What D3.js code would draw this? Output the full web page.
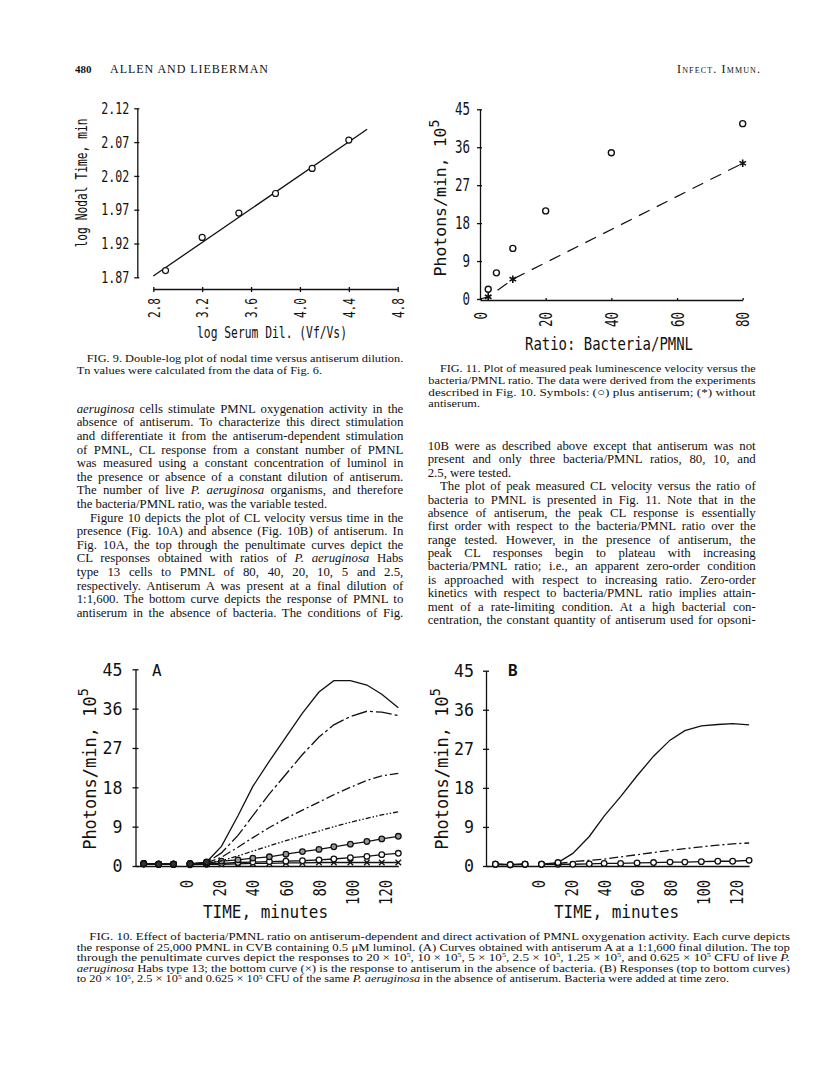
<!DOCTYPE html>
<html>
<head>
<meta charset="utf-8">
<script src="https://cdn.jsdelivr.net/npm/d3@7"></script>
<style>
  body { margin: 0; background: #fff; }
  svg { display: block; }
  .plot text { font-family: "DejaVu Sans Mono", monospace; fill: #111; }
  .serif { font-family: "Liberation Serif", "Times New Roman", serif; fill: #111; }
</style>
</head>
<body>
<script>
// ---- Fig 9: log nodal time vs log serum dilution
var fig9Dilution = [2.9, 3.2, 3.5, 3.8, 4.1, 4.4];
var fig9Nodal = [1.880, 1.929, 1.965, 1.994, 2.031, 2.073];
var fig9FitX = [2.8, 4.55];
var fig9FitY = [1.872, 2.089];
var fig9XTicks = [2.8, 3.2, 3.6, 4.0, 4.4, 4.8];
var fig9YTicks = [1.87, 1.92, 1.97, 2.02, 2.07, 2.12];

// ---- Fig 11: peak velocity vs bacteria/PMNL ratio
var fig11Ratio = [2.5, 5, 10, 20, 40, 80];
var fig11WithSerum = [2.3, 6.2, 12.0, 20.9, 34.7, 41.6];
var fig11RatioNoSerum = [2.5, 10, 80];
var fig11NoSerum = [0.5, 4.7, 32.2];
var fig11XTicks = [0, 20, 40, 60, 80];
var photonTicks = [0, 9, 18, 27, 36, 45];

// ---- Fig 10: CL velocity vs time
var fig10PreTimes = [-26, -17, -8];
var fig10PostTimes = [2, 12, 21, 31, 40, 50, 60, 70, 80, 89, 99, 109, 118, 128];
var fig10TimeTicks = [0, 20, 40, 60, 80, 100, 120];
var fig10APre = [0.5, 0.4, 0.4];
var fig10A80 = [0.5, 0.9, 4.5, 11.5, 18.2, 24.0, 29.5, 35.0, 39.8, 42.4, 42.4, 41.4, 39.3, 36.2];
var fig10A40 = [0.5, 0.8, 3.0, 7.0, 11.5, 16.5, 21.0, 25.5, 29.5, 32.3, 34.2, 35.4, 35.2, 34.4];
var fig10A20 = [0.5, 0.7, 2.0, 4.3, 6.5, 8.8, 10.9, 12.8, 14.6, 16.3, 18.0, 19.6, 20.6, 21.2];
var fig10A10 = [0.5, 0.6, 1.2, 2.3, 3.4, 4.6, 5.8, 6.9, 8.0, 9.0, 10.0, 10.9, 11.7, 12.4];
var fig10A5 = [0.5, 0.6, 1.1, 1.4, 1.8, 2.1, 2.7, 3.3, 3.8, 4.4, 5.0, 5.6, 6.2, 6.8];
var fig10A2_5 = [0.4, 0.5, 0.6, 0.8, 0.9, 1.0, 1.1, 1.2, 1.4, 1.6, 1.9, 2.2, 2.6, 2.9];
var fig10ANone = [0.3, 0.4, 0.4, 0.5, 0.6, 0.6, 0.7, 0.7, 0.8, 0.8, 0.8, 0.8, 0.8, 0.8];
var fig10BPre = [0.4, 0.3, 0.4];
var fig10B80 = [0.4, 0.8, 2.9, 6.8, 11.5, 16.0, 20.8, 25.3, 29.0, 31.2, 32.3, 32.6, 32.8, 32.5];
var fig10B10 = [0.4, 0.6, 1.0, 1.3, 1.6, 2.1, 2.6, 3.1, 3.6, 4.0, 4.4, 4.8, 5.1, 5.3];
var fig10B2_5 = [0.4, 0.4, 0.4, 0.5, 0.6, 0.6, 0.7, 0.8, 0.9, 0.9, 1.0, 1.1, 1.1, 1.3];

// ---- page text
var fig9Caption = [
  "FIG. 9. Double-log plot of nodal time versus antiserum dilution.",
  "Tn values were calculated from the data of Fig. 6."
];
var fig11Caption = [
  "FIG. 11. Plot of measured peak luminescence velocity versus the",
  "bacteria/PMNL ratio. The data were derived from the experiments",
  "described in Fig. 10. Symbols: (\u25CB) plus antiserum; (*) without",
  "antiserum."
];
var leftBody = [
  "_aeruginosa_ cells stimulate PMNL oxygenation activity in the",
  "absence of antiserum. To characterize this direct stimulation",
  "and differentiate it from the antiserum-dependent stimulation",
  "of PMNL, CL response from a constant number of PMNL",
  "was measured using a constant concentration of luminol in",
  "the presence or absence of a constant dilution of antiserum.",
  "The number of live _P. aeruginosa_ organisms, and therefore",
  "the bacteria/PMNL ratio, was the variable tested.",
  "Figure 10 depicts the plot of CL velocity versus time in the",
  "presence (Fig. 10A) and absence (Fig. 10B) of antiserum. In",
  "Fig. 10A, the top through the penultimate curves depict the",
  "CL responses obtained with ratios of _P. aeruginosa_ Habs",
  "type 13 cells to PMNL of 80, 40, 20, 10, 5 and 2.5,",
  "respectively. Antiserum A was present at a final dilution of",
  "1:1,600. The bottom curve depicts the response of PMNL to",
  "antiserum in the absence of bacteria. The conditions of Fig."
];
var rightBody = [
  "10B were as described above except that antiserum was not",
  "present and only three bacteria/PMNL ratios, 80, 10, and",
  "2.5, were tested.",
  "The plot of peak measured CL velocity versus the ratio of",
  "bacteria to PMNL is presented in Fig. 11. Note that in the",
  "absence of antiserum, the peak CL response is essentially",
  "first order with respect to the bacteria/PMNL ratio over the",
  "range tested. However, in the presence of antiserum, the",
  "peak CL responses begin to plateau with increasing",
  "bacteria/PMNL ratio; i.e., an apparent zero-order condition",
  "is approached with respect to increasing ratio. Zero-order",
  "kinetics with respect to bacteria/PMNL ratio implies attain-",
  "ment of a rate-limiting condition. At a high bacterial con-",
  "centration, the constant quantity of antiserum used for opsoni-"
];
var fig10Caption = [
  "FIG. 10. Effect of bacteria/PMNL ratio on antiserum-dependent and direct activation of PMNL oxygenation activity. Each curve depicts",
  "the response of 25,000 PMNL in CVB containing 0.5 \u03BCM luminol. (A) Curves obtained with antiserum A at a 1:1,600 final dilution. The top",
  "through the penultimate curves depict the responses to 20 \u00D7 10^5^, 10 \u00D7 10^5^, 5 \u00D7 10^5^, 2.5 \u00D7 10^5^, 1.25 \u00D7 10^5^, and 0.625 \u00D7 10^5^ CFU of live _P._",
  "_aeruginosa_ Habs type 13; the bottom curve (\u00D7) is the response to antiserum in the absence of bacteria. (B) Responses (top to bottom curves)",
  "to 20 \u00D7 10^5^, 2.5 \u00D7 10^5^ and 0.625 \u00D7 10^5^ CFU of the same _P. aeruginosa_ in the absence of antiserum. Bacteria were added at time zero."
];

var width = 816, height = 1084;
var svg = d3.select("body").append("svg")
  .attr("width", width)
  .attr("height", height);

// one line of page text; _x_ = italic, ^x^ = superscript
// body lines are justified through word spacing, caption lines through glyph stretching
function textLine(x, y, str, size, len, stretch) {
  var t = svg.append("text").attr("class", "serif")
    .attr("x", x).attr("y", y).attr("font-size", size);
  var parts = str.split(/(_[^_]+_|\^[^^]+\^)/).filter(function(s) { return s; });
  var raised = false;
  parts.forEach(function(p) {
    var sp = t.append("tspan");
    if (raised) { sp.attr("dy", size * 0.35); raised = false; }
    if (p[0] === "_") sp.attr("font-style", "italic").text(p.slice(1, -1));
    else if (p[0] === "^") {
      sp.attr("dy", -size * 0.35).attr("font-size", size * 0.62).text(p.slice(1, -1));
      raised = true;
    } else sp.text(p);
  });
  var natural = t.node().getComputedTextLength();
  if (stretch) {
    t.attr("textLength", len || natural * stretch).attr("lengthAdjust", "spacingAndGlyphs");
  } else if (len) {
    var spaces = (t.text().match(/ /g) || []).length;
    if (spaces) t.style("word-spacing", ((len - natural) / spaces) + "px");
  }
  return t;
}

function styleAxis(g, size, charW) {
  g.attr("font-family", null).attr("font-size", null);
  g.select(".domain").attr("stroke", "#111").attr("stroke-width", 1.3);
  g.selectAll(".tick line").attr("stroke", "#111").attr("stroke-width", 1.3);
  g.selectAll(".tick text").attr("font-size", size).attr("fill", "#111")
    .each(function() {
      var n = this.textContent.length;
      d3.select(this).attr("textLength", n * charW).attr("lengthAdjust", "spacingAndGlyphs");
    });
}

function rotateTicks(g, gap) {
  g.selectAll(".tick text")
    .attr("transform", "rotate(-90)")
    .attr("text-anchor", "end")
    .attr("x", -gap).attr("y", 0).attr("dy", "0.36em");
}

function yTitle(g, cx, cy, size, len, withSup, label) {
  var t = g.append("text")
    .attr("transform", "translate(" + cx + "," + cy + ") rotate(-90)")
    .attr("text-anchor", "middle")
    .attr("font-size", size);
  t.append("tspan").text(label);
  if (withSup) t.append("tspan").attr("dy", -size * 0.45).attr("font-size", size * 0.8).text("5");
  if (len) t.attr("textLength", len).attr("lengthAdjust", "spacingAndGlyphs");
}

// ---------- header
svg.append("text").attr("class", "serif").attr("x", 75).attr("y", 73)
  .attr("font-size", 11).attr("font-weight", "bold").text("480");
svg.append("text").attr("class", "serif").attr("x", 110).attr("y", 73)
  .attr("font-size", 12).attr("textLength", 158).attr("lengthAdjust", "spacing")
  .text("ALLEN AND LIEBERMAN");
svg.append("text").attr("class", "serif").attr("x", 677).attr("y", 73)
  .attr("font-size", 12).style("font-variant", "small-caps")
  .attr("textLength", 83).attr("lengthAdjust", "spacing")
  .text("Infect. Immun.");

// ---------- Fig 9
(function() {
  var g = svg.append("g").attr("class", "plot");
  var x = d3.scaleLinear().domain([2.8, 4.8]).range([153.3, 397.7]);
  var y = d3.scaleLinear().domain([1.87, 2.12]).range([277.3, 108.3]);

  var ya = g.append("g").attr("transform", "translate(137.3,0)")
    .call(d3.axisLeft(y).tickValues(fig9YTicks).tickFormat(d3.format(".2f"))
      .tickSize(3).tickSizeOuter(0).tickPadding(5));
  styleAxis(ya, 16, 7);
  ya.selectAll(".tick line").attr("x1", 2);

  var xa = g.append("g").attr("transform", "translate(0,289)")
    .call(d3.axisBottom(x).tickValues(fig9XTicks).tickFormat(d3.format(".1f"))
      .tickSize(3).tickSizeOuter(0));
  styleAxis(xa, 16, 6.7);
  xa.selectAll(".tick line").attr("y1", -2);
  rotateTicks(xa, 9);

  g.append("path")
    .datum(d3.zip(fig9FitX, fig9FitY))
    .attr("fill", "none").attr("stroke", "#111").attr("stroke-width", 1.3)
    .attr("d", d3.line().x(function(d) { return x(d[0]); }).y(function(d) { return y(d[1]); }));

  g.selectAll(".pt9").data(d3.zip(fig9Dilution, fig9Nodal)).enter().append("circle")
    .attr("class", "pt9")
    .attr("cx", function(d) { return x(d[0]); })
    .attr("cy", function(d) { return y(d[1]); })
    .attr("r", 3).attr("fill", "#fff").attr("stroke", "#111").attr("stroke-width", 1.2);

  yTitle(g, 87, 183, 15, 129, false, "log Nodal Time, min");
  g.append("text").attr("x", 272).attr("y", 338).attr("text-anchor", "middle")
    .attr("font-size", 15).attr("textLength", 150).attr("lengthAdjust", "spacingAndGlyphs")
    .text("log Serum Dil. (Vf/Vs)");
})();

// ---------- Fig 11
(function() {
  var g = svg.append("g").attr("class", "plot");
  var x = d3.scaleLinear().domain([0, 80]).range([480, 742.7]);
  var y = d3.scaleLinear().domain([0, 45]).range([299, 109.3]);

  var ya = g.append("g").attr("transform", "translate(480,0)")
    .call(d3.axisLeft(y).tickValues(photonTicks).tickSize(3).tickSizeOuter(0).tickPadding(7));
  styleAxis(ya, 17, 7.5);
  ya.selectAll(".tick line").attr("x1", 2);

  var xa = g.append("g").attr("transform", "translate(0,300)")
    .call(d3.axisBottom(x).tickValues(fig11XTicks).tickSize(3).tickSizeOuter(0));
  styleAxis(xa, 17, 7.5);
  xa.selectAll(".tick line").attr("y1", -2).attr("y2", 0);
  rotateTicks(xa, 12);

  var lineData = [[0, 0]].concat(d3.zip(fig11RatioNoSerum, fig11NoSerum));
  g.append("path").datum(lineData)
    .attr("fill", "none").attr("stroke", "#111").attr("stroke-width", 1.2)
    .attr("stroke-dasharray", "12,8")
    .attr("d", d3.line().x(function(d) { return x(d[0]); }).y(function(d) { return y(d[1]); }));

  g.selectAll(".star").data(d3.zip(fig11RatioNoSerum, fig11NoSerum)).enter().append("path")
    .attr("class", "star")
    .attr("transform", function(d) { return "translate(" + x(d[0]) + "," + y(d[1]) + ")"; })
    .attr("d", d3.symbol(d3.symbolAsterisk, 40))
    .attr("fill", "none").attr("stroke", "#111").attr("stroke-width", 1.6);

  g.selectAll(".pt11").data(d3.zip(fig11Ratio, fig11WithSerum)).enter().append("circle")
    .attr("class", "pt11")
    .attr("cx", function(d) { return x(d[0]); })
    .attr("cy", function(d) { return y(d[1]); })
    .attr("r", 3).attr("fill", "#fff").attr("stroke", "#111").attr("stroke-width", 1.4);

  yTitle(g, 446, 198, 16.5, null, true, "Photons/min, 10");
  g.append("text").attr("x", 609).attr("y", 350).attr("text-anchor", "middle")
    .attr("font-size", 18).attr("textLength", 168).attr("lengthAdjust", "spacingAndGlyphs")
    .text("Ratio: Bacteria/PMNL");
})();

// ---------- Fig 10 panels
function drawFig10(opt) {
  var g = svg.append("g").attr("class", "plot");
  var x = d3.scaleLinear().domain(opt.xDomain).range(opt.xRange);
  var y = d3.scaleLinear().domain([0, 45]).range([866, opt.yTop]);
  var line = d3.line().x(function(d) { return x(d[0]); }).y(function(d) { return y(d[1]); });

  var ya = g.append("g").attr("transform", "translate(" + opt.xRange[0] + ",0)")
    .call(d3.axisLeft(y).tickValues(photonTicks).tickSize(3).tickSizeOuter(0).tickPadding(opt.yPad));
  styleAxis(ya, 18, 10);
  ya.selectAll(".tick line").attr("x1", 3).attr("x2", -3);

  var xa = g.append("g").attr("transform", "translate(0,866)")
    .call(d3.axisBottom(x).tickValues(fig10TimeTicks).tickSize(0).tickSizeOuter(0));
  styleAxis(xa, 17, 8.3);
  rotateTicks(xa, 14);

  opt.series.forEach(function(s) {
    var pre = d3.zip(fig10PreTimes, opt.pre);
    var post = d3.zip(fig10PostTimes, s.values);
    [pre, post].forEach(function(seg) {
      g.append("path").datum(seg)
        .attr("fill", "none").attr("stroke", "#111").attr("stroke-width", 1.3)
        .attr("stroke-dasharray", s.dash)
        .attr("d", line);
    });
    var early = post.slice(0, 2);
    var later = post.slice(2);
    if (s.marker === "x") {
      g.selectAll(null).data(later).enter().append("path")
        .attr("transform", function(d) { return "translate(" + x(d[0]) + "," + y(d[1]) + ")"; })
        .attr("d", d3.symbol(d3.symbolTimes, 22))
        .attr("fill", "none").attr("stroke", "#111").attr("stroke-width", 1.3);
    } else if (s.marker === "o") {
      g.selectAll(null).data(later).enter().append("circle")
        .attr("cx", function(d) { return x(d[0]); })
        .attr("cy", function(d) { return y(d[1]); })
        .attr("r", 2.8).attr("fill", s.fill || "#fff")
        .attr("stroke", "#111").attr("stroke-width", 1.3);
    }
    g.selectAll(null).data(pre.concat(early)).enter().append("circle")
      .attr("cx", function(d) { return x(d[0]); })
      .attr("cy", function(d) { return y(d[1]); })
      .attr("r", 2.8).attr("fill", opt.preFill)
      .attr("stroke", "#111").attr("stroke-width", 1.3);
  });

  g.append("text").attr("x", opt.letterX).attr("y", 676)
    .attr("font-size", 16).attr("font-weight", opt.letterBold ? "bold" : null)
    .text(opt.letter);
  yTitle(g, opt.titleX, 769, 17, null, true, "Photons/min, 10");
  g.append("text").attr("x", opt.xTitleX).attr("y", 918).attr("text-anchor", "middle")
    .attr("font-size", 17).attr("textLength", 125).attr("lengthAdjust", "spacingAndGlyphs")
    .text("TIME, minutes");
}

drawFig10({
  xDomain: [-31, 128], xRange: [135.5, 398.3], yTop: 669.3, yPad: 10, preFill: "#333",
  pre: fig10APre, letter: "A", letterX: 152, titleX: 96, xTitleX: 265.5,
  series: [
    { values: fig10ANone, dash: null, marker: "x" },
    { values: fig10A2_5, dash: null, marker: "o" },
    { values: fig10A5, dash: null, marker: "o", fill: "#999" },
    { values: fig10A10, dash: "5,2,1.5,2,1.5,2" },
    { values: fig10A20, dash: "9,3,2,3" },
    { values: fig10A40, dash: "16,3,3,3" },
    { values: fig10A80, dash: null }
  ]
});

drawFig10({
  xDomain: [-31.7, 128], xRange: [486, 749.1], yTop: 670.7, yPad: 9, preFill: "#fff",
  pre: fig10BPre, letter: "B", letterX: 508, letterBold: true, titleX: 448, xTitleX: 616.5,
  series: [
    { values: fig10B2_5, dash: null, marker: "o" },
    { values: fig10B10, dash: "9,3,2,3" },
    { values: fig10B80, dash: null }
  ]
});

// ---------- captions and body text
var capStretch = 1.12;
textLine(86.7, 362.3, fig9Caption[0], 11, 316.6, capStretch);
textLine(76.7, 374.3, fig9Caption[1], 11, null, capStretch);

fig11Caption.forEach(function(s, i) {
  var x0 = i === 0 ? 440 : 428.3;
  textLine(x0, 371.7 + i * 11.9, s, 11, i < 3 ? 755.7 - x0 : null, capStretch);
});

leftBody.forEach(function(s, i) {
  var x0 = i === 8 ? 90 : 76.7;
  textLine(x0, 412.7 + i * 13.6, s, 12.8, i === 7 ? null : 403.3 - x0);
});

rightBody.forEach(function(s, i) {
  var x0 = i === 3 ? 440 : 427.7;
  textLine(x0, 450 + i * 13.38, s, 12.8, i === 2 ? null : 755.7 - x0);
});

fig10Caption.forEach(function(s, i) {
  var x0 = i === 0 ? 89.3 : 76.7;
  textLine(x0, 940 + i * 10.6, s, 11, i < 4 ? 790 - x0 : null, capStretch);
});
</script>
</body>
</html>
